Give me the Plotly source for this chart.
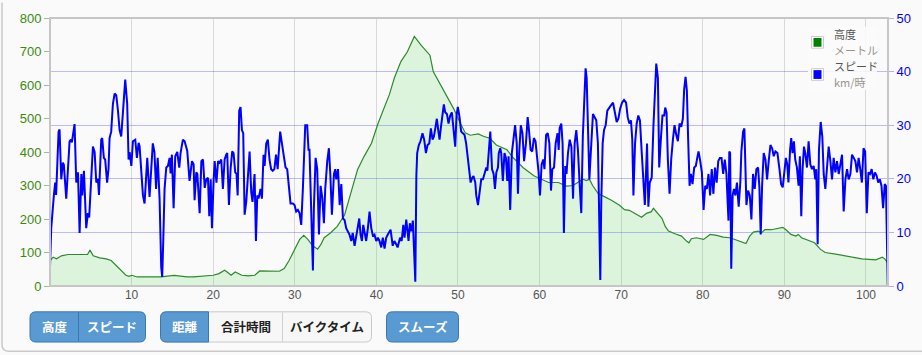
import plotly.graph_objects as go

# ---------------- data ----------------
speed_km = [0.0,0.15,0.48,0.64,0.75,1.05,1.17,1.38,1.58,1.7,1.99,2.4,2.56,2.68,3.01,3.22,3.43,3.63,3.84,3.96,
4.16,4.44,4.64,4.8,5.26,5.47,5.67,5.88,6.0,6.28,6.4,6.6,6.76,7.0,7.17,7.3,7.5,7.71,7.92,8.12,
8.33,8.53,8.73,8.94,9.22,9.46,9.63,9.76,9.97,10.16,10.45,10.65,10.86,10.98,11.18,11.39,11.59,11.72,11.92,12.2,
12.6,12.8,13.0,13.2,13.43,13.63,13.75,13.88,14.04,14.25,14.45,14.66,14.78,14.94,15.15,15.35,15.6,15.84,16.0,16.29,
16.5,16.82,17.1,17.4,17.6,17.72,17.93,18.06,18.34,18.55,18.75,18.96,19.16,19.36,19.52,19.69,19.85,20.05,20.18,20.4,
20.6,20.78,20.99,21.19,21.4,21.6,21.72,21.93,22.13,22.33,22.5,22.7,22.86,23.0,23.19,23.35,23.52,23.68,23.85,24.05,
24.25,24.46,24.66,24.82,25.07,25.24,25.4,25.56,25.8,25.97,26.17,26.3,26.5,26.7,26.9,27.1,27.3,27.5,27.7,27.9,
28.21,28.46,28.66,28.87,29.07,29.23,29.48,29.76,29.97,30.17,30.38,30.58,30.79,30.99,31.28,31.52,31.68,31.8,32.0,32.22,
32.34,32.55,32.75,32.96,33.16,33.36,33.57,33.73,33.98,34.18,34.35,34.55,34.8,34.96,35.08,35.3,35.5,35.7,35.9,36.1,
36.3,36.5,36.7,36.92,37.1,37.33,37.53,37.73,37.9,38.06,38.23,38.39,38.55,38.75,38.96,39.16,39.37,39.57,39.77,39.98,
40.18,40.38,40.59,40.79,41.0,41.2,41.4,41.74,42.0,42.2,42.43,42.6,42.9,43.1,43.3,43.45,43.66,43.78,43.94,44.1,
44.27,44.47,44.6,44.77,44.9,45.0,45.2,45.4,45.65,45.86,46.07,46.27,46.48,46.68,46.88,47.05,47.25,47.41,47.58,47.74,
47.94,48.15,48.27,48.43,48.64,48.84,49.05,49.25,49.46,49.66,49.82,49.98,50.19,50.39,50.6,50.8,51.0,51.2,51.43,51.55,
51.75,51.9,52.12,52.24,52.45,52.65,52.85,53.06,53.26,53.47,53.6,53.75,53.96,54.17,54.37,54.53,54.7,54.9,55.0,55.18,
55.3,55.5,55.7,55.88,56.04,56.2,56.4,56.6,56.8,57.0,57.2,57.35,57.5,57.7,57.9,58.1,58.33,58.54,58.7,58.9,
59.1,59.3,59.5,59.7,59.88,60.05,60.25,60.45,60.6,60.8,61.0,61.2,61.4,61.56,61.77,61.97,62.2,62.34,62.46,62.66,
62.82,62.98,63.15,63.3,63.48,63.69,63.9,64.1,64.3,64.5,64.7,64.9,65.11,65.3,65.52,65.64,65.77,65.93,66.1,66.34,
66.54,66.75,66.95,67.15,67.32,67.44,67.56,67.73,67.9,68.1,68.3,68.5,68.7,69.0,69.2,69.45,69.66,69.86,70.1,70.35,
70.6,70.8,71.0,71.2,71.36,71.5,71.7,71.9,72.1,72.3,72.5,72.7,72.9,73.17,73.33,73.5,73.74,73.95,74.15,74.3,
74.5,74.66,74.86,75.06,75.27,75.4,75.56,75.72,75.93,76.13,76.34,76.54,76.75,76.95,77.15,77.36,77.56,77.72,77.89,78.05,
78.21,78.38,78.54,78.74,78.95,79.15,79.32,79.48,79.69,79.89,80.1,80.3,80.5,80.7,80.9,81.1,81.3,81.5,81.7,81.9,
82.1,82.3,82.5,82.7,82.9,83.15,83.25,83.35,83.49,83.66,83.82,84.0,84.19,84.4,84.6,84.73,84.94,85.1,85.35,85.55,
85.76,85.96,86.16,86.37,86.57,86.78,86.94,87.1,87.27,87.47,87.68,87.88,88.08,88.29,88.5,88.7,88.9,89.15,89.4,89.6,
89.8,90.0,90.18,90.35,90.5,90.7,90.84,91.0,91.17,91.33,91.54,91.74,91.9,92.07,92.23,92.4,92.56,92.77,92.97,93.18,
93.38,93.59,93.79,93.91,94.08,94.24,94.45,94.65,94.82,95.02,95.23,95.43,95.64,95.84,96.04,96.25,96.45,96.66,96.86,97.07,
97.27,97.48,97.68,97.88,98.09,98.29,98.5,98.7,98.9,99.1,99.3,99.5,99.7,99.9,100.1,100.3,100.5,100.7,100.9,101.1,
101.3,101.5,101.7,101.9,102.1,102.3,102.45,102.6,102.67]

speed_kmh = [3.5,10.8,17,19.3,17,28.8,29.2,19.9,23,22.6,16.3,27,27.3,26.8,30.2,19.3,21.2,9.9,20.9,16.9,
21.5,10.8,13.6,12.8,26,25,19.3,20,17,27.3,27.6,23.9,23.6,19.3,21.8,27.6,28.8,34,35.9,35.6,
32.7,29.1,27.9,32.7,38.5,34,23.6,25,22.4,27,27.3,23.9,26.7,26.1,21.2,16.9,15.4,18.5,23.9,16.6,
26.6,25,18.1,23.9,16.3,3.5,1.7,8.4,18.1,22.1,22.4,23.9,21,24.5,14.5,24.2,25,22.1,24.8,27.3,
27,25.2,19.6,23.3,22.7,16,21.2,20.9,13.6,23.3,23.6,18.3,19.9,20.2,13,19.9,10.8,19.6,23.3,19.3,
23.3,23.0,23.6,18.1,23.6,24.5,24.8,15.1,21.8,25.1,24.8,21.2,20.9,16.9,32.7,33.4,29.1,28.5,13.3,15.7,
20.9,25.1,17.5,15.7,20.9,8.4,16.9,16.3,18.1,16.3,24.5,22.4,26.6,27.3,23.6,21.8,21.5,21.8,24.5,21.8,
28.8,26.6,24.2,22.1,21.8,19.3,15.4,15.4,15.1,13.9,14.2,13.6,11.4,18.1,30,30,25.4,25.4,13.3,2.9,
14.5,23.9,21.8,9.6,18.7,16.6,11.7,18.1,23.3,25.7,20.9,13.3,20.9,21.8,19.9,21.8,15.1,19,12.6,12.3,
10.8,10.2,9.6,8.4,9.9,7.5,9.6,10.8,12.6,9.6,8.4,11.4,9.6,8.4,10.8,13.9,10.8,9.4,9.6,8.4,
9,8.4,7.2,9,7,9,9.6,10.5,7.5,8.4,7.8,7.2,9,8.4,11.4,9,12.4,10.8,8.4,11.7,
10.2,12.2,8.4,0.8,20.6,24.8,26.3,27,28.5,27.3,24.8,26.3,26.6,29.4,27.3,27.9,29.7,31.2,29.1,27.3,
30,33.3,33.9,32.4,32.1,30.3,31.8,32.4,29.7,26,31.8,33.4,31.5,28.8,28.5,28.2,26.6,23.6,21.2,19.3,
20.2,20.5,19.3,16.9,15.1,18.1,19.9,19.9,21.2,22.1,21.5,25.4,28.8,21.8,20.9,18.1,21.2,22.1,24.8,25.7,
24.8,19.6,24.8,23.9,19.6,24.2,14.2,24.8,27,30,26.6,17.2,24.8,30,28.5,23.3,26.6,31.5,29.1,25.4,
25.1,27.6,27,23.9,21.2,16.9,22.7,23.6,21.8,28.2,28.5,26.6,17.8,21.8,22.1,26.6,28.5,25.4,29.5,30.3,
26.6,9.9,22.4,20.9,24.8,27.3,26,16.3,26.6,29.1,25.4,19.3,13.6,27.9,37,40.6,38.8,30.3,19.9,26.6,
32.1,31.5,30.9,26.6,14.5,1.1,15.7,26.6,29.1,30,32.7,33.3,33.6,34.2,32.7,30.6,31.2,33,34.2,34.7,
34.2,31.5,30.3,30.9,27.3,16.9,26.6,30.3,31.8,30.9,25.4,19.3,15.1,26.6,14.8,19.3,20.2,29.7,37.6,41.5,
38.8,22.1,27.3,31.8,31.8,33.3,32.4,23.6,17.2,23.6,27.3,30,28.2,27,30.3,29.7,31.2,36.7,39,36.5,
27.3,18.7,20.9,19,22.1,22.4,23.9,25.1,23.3,21.2,14.2,18.7,18.1,20.9,16.9,21.8,17.2,22.1,19.3,23.3,
23.9,23.9,20.9,23.6,20.9,12.2,25.1,24.8,3.2,16.9,18.1,16.9,19.3,14.8,19.3,25.1,28.8,29.4,15.1,17.8,
16.9,12.4,20.9,18.1,21.8,22.1,18.4,9.6,18.7,24.8,23.6,19.9,23.3,26.3,25.7,24.2,25.1,24.8,21.8,19,
18.4,21.2,23.9,22.7,19.3,25.4,27.6,24.8,27,23.6,22.1,18.7,24.2,13,21.8,26,24.8,22.1,27,22.7,
21.8,22.4,19.9,21.8,7.8,25.4,30.6,27.9,20.9,18.1,22.4,26,23.3,19.9,23.9,21.2,23.3,20.9,22.7,24.5,
13.9,19.9,21.8,19.9,20.9,24.5,23.9,23.3,21.2,23.9,21.8,19.3,25.7,25.1,13.6,21.2,20.9,21.8,19.9,21.2,
20.6,19.3,19.9,18.7,14.5,19,18.7,2.3,0]

elev_km = [0,0.4,0.8,1.4,2.2,3.4,4.2,4.6,4.9,5.3,6.1,6.9,7.5,8.3,8.9,9.3,9.7,10.0,10.7,11.9,
13.6,15.2,16.8,17.6,18.9,20.0,20.7,21.4,21.7,22.2,22.7,23.5,24.3,25.1,25.7,26.7,28.1,28.7,29.3,29.9,
30.6,31.1,31.6,32.2,32.8,33.2,33.6,34.4,35.2,36.1,36.9,37.7,38.5,39.4,40.2,41.0,41.6,42.2,43.0,43.8,
44.65,45.5,46.56,46.97,48.3,49.5,50.3,50.9,51.5,52.5,53.1,53.9,54.7,55.3,56.0,56.6,57.2,58.0,59.3,60.1,
61.1,62.3,63.3,64.1,64.7,65.3,65.75,66.1,66.5,67.2,68.0,68.8,69.8,70.4,71.0,71.9,72.5,73.1,73.7,73.95,
74.3,75.0,75.4,75.8,76.6,77.4,78.0,78.3,78.6,79.2,80.1,80.9,81.7,82.5,83.35,83.9,84.7,85.3,85.75,86.2,
86.8,87.2,87.6,88.4,89.0,89.8,90.2,90.8,91.4,91.7,92.1,93.1,93.7,94.4,95.0,96.3,97.9,99.5,101.2,102.0,
102.3,102.6]

elev_m = [76,86,81,90,94,94,95,94,107,90,84,81,76,56,41,32,29,32,27,27,
27,32,27,27,29,32,37,47,42,32,42,32,30,32,45,44,44,52,76,105,
139,151,139,120,110,124,144,159,178,212,280,348,387,426,485,533,572,621,670,699,
745,718,689,640,582,528,485,457,450,454,447,441,421,415,407,387,373,353,329,319,
309,309,298,300,309,319,315,319,300,275,266,256,241,228,226,212,205,217,222,232,
222,202,178,164,156,149,134,129,141,144,139,154,151,146,144,139,134,127,149,161,
164,159,168,168,171,175,168,154,149,154,144,136,129,110,100,95,88,81,78,86,
81,71]

x_ticks = [10, 20, 30, 40, 50, 60, 70, 80, 90, 100]
elev_ticks = [0, 100, 200, 300, 400, 500, 600, 700, 800]
speed_ticks = [0, 10, 20, 30, 40, 50]

legend_items = [("高度", "メートル", "#008000"), ("スピード", "km/時", "#0000ff")]
buttons = ["高度", "スピード", "距離", "合計時間", "バイクタイム", "スムーズ"]

# ---------------- layout helpers ----------------
W, H = 922, 355
L, R, T, B = 50, 34, 11, 69
PW, PH = W - L - R, H - T - B


def fx(x):
    return (x - L) / PW


def fy(y):
    return (H - B - y) / PH


def rpath(x0, y0, x1, y1, r=(6, 6, 6, 6)):
    tl, tr, br, bl = r
    p = [
        f"M {fx(x0+tl)},{fy(y0)}",
        f"L {fx(x1-tr)},{fy(y0)}",
        f"Q {fx(x1)},{fy(y0)} {fx(x1)},{fy(y0+tr)}",
        f"L {fx(x1)},{fy(y1-br)}",
        f"Q {fx(x1)},{fy(y1)} {fx(x1-br)},{fy(y1)}",
        f"L {fx(x0+bl)},{fy(y1)}",
        f"Q {fx(x0)},{fy(y1)} {fx(x0)},{fy(y1-bl)}",
        f"L {fx(x0)},{fy(y0+tl)}",
        f"Q {fx(x0)},{fy(y0)} {fx(x0+tl)},{fy(y0)}",
        "Z",
    ]
    return " ".join(p)


shapes = []
annotations = []


def add_shape(path, fill, line, width=1, layer="above"):
    shapes.append(dict(type="path", xref="paper", yref="paper", path=path,
                       fillcolor=fill, line=dict(color=line, width=width), layer=layer))


def add_rect(x0, y0, x1, y1, fill, line="rgba(0,0,0,0)", width=0, layer="above"):
    shapes.append(dict(type="rect", xref="paper", yref="paper",
                       x0=fx(x0), x1=fx(x1), y0=fy(y1), y1=fy(y0),
                       fillcolor=fill, line=dict(color=line, width=width), layer=layer))


def add_text(x, y, text, color, size=12, anchor="center", bold=False, family="Noto Sans CJK JP"):
    annotations.append(dict(xref="paper", yref="paper", x=fx(x), y=fy(y), text=(f"<b>{text}</b>" if bold else text),
                            showarrow=False, xanchor=anchor, yanchor="middle",
                            font=dict(color=color, size=size, family=family)))


# outer container border (left + bottom, rounded corner)
shapes.append(dict(type="path", xref="paper", yref="paper",
                   path=f"M {fx(2)},{fy(-5)} L {fx(2)},{fy(346)} Q {fx(2)},{fy(353)} {fx(9)},{fy(353)} L {fx(930)},{fy(353)}",
                   line=dict(color="#c9c9c9", width=1.5), layer="above"))

# plot frame
shapes.append(dict(type="rect", xref="paper", yref="paper", x0=0, x1=1, y0=0, y1=1,
                   line=dict(color="#c6c6c6", width=2), layer="above"))

# legend
add_rect(808, 20, 877, 85, "rgba(250,250,250,0.88)")
for i, (name, unit, col) in enumerate(legend_items):
    yc = 36 + i * 33
    add_rect(811.5, yc - 6, 823.5, yc + 6, "#ffffff", "#cccccc", 1)
    add_rect(813.5, yc - 4.5, 821.5, yc + 4.5, col)
    add_text(832, yc - 8.5, name, "#545454", 11, "left")
    add_text(832, yc + 8, unit, "#9a928c", 11, "left")

BLUE, BLUE_LINE = "#5a9ad2", "#3a76b2"
# group 1: 高度 | スピード
add_shape(rpath(30, 312.5, 145.5, 343.5), BLUE, BLUE_LINE)
shapes.append(dict(type="line", xref="paper", yref="paper", x0=fx(78.5), x1=fx(78.5), y0=fy(313), y1=fy(343),
                   line=dict(color=BLUE_LINE, width=1), layer="above"))
add_text(54.5, 328, buttons[0], "#ffffff", 12.5, bold=True)
add_text(112, 328, buttons[1], "#ffffff", 12.5, bold=True)
# group 2: 距離 | 合計時間 | バイクタイム
add_shape(rpath(160.5, 312.5, 371.5, 343.5), "#f7f7f7", "#c9c9c9")
add_shape(rpath(160.5, 312.5, 208.5, 343.5, (6, 0, 0, 6)), BLUE, BLUE_LINE)
shapes.append(dict(type="line", xref="paper", yref="paper", x0=fx(282.5), x1=fx(282.5), y0=fy(313), y1=fy(343),
                   line=dict(color="#d0d0d0", width=1), layer="above"))
add_text(184.5, 328, buttons[2], "#ffffff", 12.5, bold=True)
add_text(245.5, 328, buttons[3], "#222222", 12.5, bold=True)
add_text(327, 328, buttons[4], "#222222", 12.5, bold=True)
# group 3: スムーズ
add_shape(rpath(386.5, 312.5, 458.5, 343.5), BLUE, BLUE_LINE)
add_text(422.5, 328, buttons[5], "#ffffff", 12.5, bold=True)

# ---------------- figure ----------------
fig = go.Figure()
fig.add_trace(go.Scatter(x=elev_km, y=elev_m, mode="lines", name="高度",
                         line=dict(color="#2c8a2c", width=1.2), fill="tozeroy",
                         fillcolor="rgba(40,215,40,0.14)", yaxis="y", hoverinfo="skip"))
fig.add_trace(go.Scatter(x=speed_km, y=speed_kmh, mode="lines", name="スピード",
                         line=dict(color="#0000ff", width=2), yaxis="y2", hoverinfo="skip"))

fig.update_layout(
    width=W, height=H,
    margin=dict(l=L, r=R, t=T, b=B),
    paper_bgcolor="#fafafa", plot_bgcolor="#fafafa",
    showlegend=False,
    shapes=shapes, annotations=annotations,
    xaxis=dict(range=[0, 102.7], tickvals=x_ticks, showgrid=True, gridcolor="#d9d9d9", gridwidth=1,
               zeroline=False, showline=False, ticks="",
               tickfont=dict(color="#545454", size=12, family="Liberation Sans")),
    yaxis=dict(range=[0, 800], tickvals=elev_ticks, showgrid=False, zeroline=False, showline=False,
               ticks="outside", ticklen=5, tickcolor="#a8b890",
               tickfont=dict(color="#3a8a10", size=13, family="Liberation Sans")),
    yaxis2=dict(range=[0, 50], tickvals=speed_ticks, overlaying="y", side="right", showgrid=True,
                gridcolor="rgba(70,70,255,0.35)", gridwidth=1, zeroline=False, showline=False,
                ticks="outside", ticklen=5, tickcolor="#b0b0ff",
                tickfont=dict(color="#0000ff", size=13, family="Liberation Sans")),
)

fig.write_html("out.html")
